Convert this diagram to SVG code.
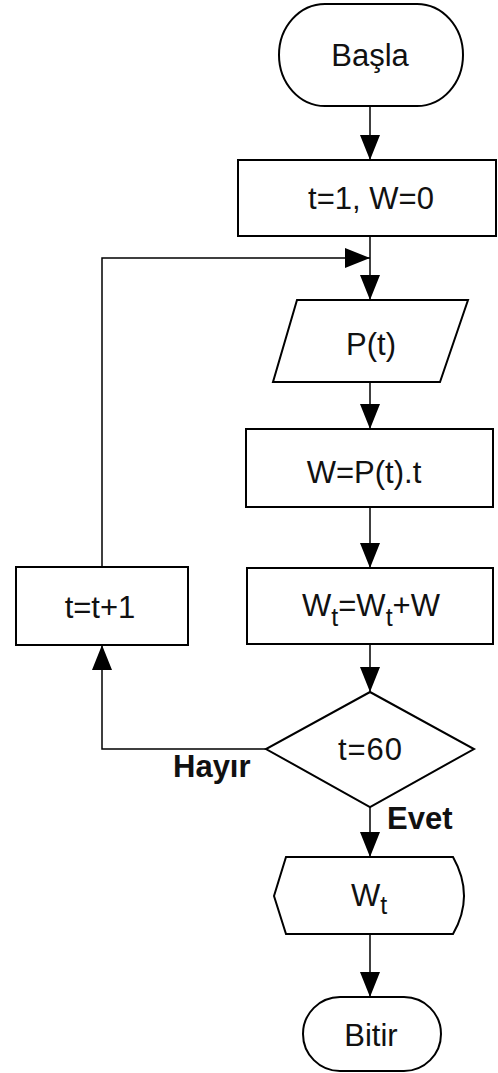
<svg xmlns="http://www.w3.org/2000/svg" width="498" height="1073" viewBox="0 0 498 1073">
<style>
.s{fill:#fff;stroke:#000;stroke-width:2}
.c{fill:none;stroke:#000;stroke-width:1.5}
.t{font-family:"Liberation Sans",Arial,sans-serif;font-size:31px;fill:#111;text-anchor:middle}
.b{font-family:"Liberation Sans",Arial,sans-serif;font-size:31px;font-weight:bold;fill:#111}
.sub{font-size:25px}
</style>
<defs>
<marker id="ah" markerWidth="25" markerHeight="20" refX="25" refY="10" orient="auto" markerUnits="userSpaceOnUse">
<path d="M0,0 L25,10 L0,20 Z" fill="#000"/>
</marker>
</defs>
<rect width="498" height="1073" fill="#fff"/>
<g id="connectors">
<line class="c" x1="370" y1="106" x2="370" y2="160" marker-end="url(#ah)"/>
<line class="c" x1="370" y1="236" x2="370" y2="300" marker-end="url(#ah)"/>
<polyline class="c" points="102,567 102,258 370,258" marker-end="url(#ah)"/>
<line class="c" x1="370" y1="382" x2="370" y2="429" marker-end="url(#ah)"/>
<line class="c" x1="370" y1="507" x2="370" y2="568" marker-end="url(#ah)"/>
<line class="c" x1="370" y1="644" x2="370" y2="692" marker-end="url(#ah)"/>
<polyline class="c" points="266,749 102,749 102,645" marker-end="url(#ah)"/>
<line class="c" x1="370" y1="807" x2="370" y2="857" marker-end="url(#ah)"/>
<line class="c" x1="370" y1="934" x2="370" y2="997" marker-end="url(#ah)"/>
</g>
<g id="basla">
<rect class="s" x="279" y="4" width="184" height="102" rx="46" ry="51"/>
<text class="t" x="370" y="66">Başla</text>
</g>
<g id="init">
<rect class="s" x="238" y="160" width="258" height="76"/>
<text class="t" x="371" y="209">t=1, W=0</text>
</g>
<g id="input">
<polygon class="s" points="297,300 468,300 440,382 273,382"/>
<text class="t" x="371" y="355">P(t)</text>
</g>
<g id="calcW">
<rect class="s" x="246" y="429" width="247" height="78"/>
<text class="t" x="364" y="483">W=P(t).t</text>
</g>
<g id="sumW">
<rect class="s" x="247" y="568" width="246" height="76"/>
<text class="t" x="371" y="616">W<tspan class="sub" dy="10">t</tspan><tspan dy="-10">=W</tspan><tspan class="sub" dy="10">t</tspan><tspan dy="-10">+W</tspan></text>
</g>
<g id="incr">
<rect class="s" x="16" y="567" width="172" height="78"/>
<text class="t" x="100" y="618">t=t+1</text>
</g>
<g id="decision">
<polygon class="s" points="370,692 474,749 370,807 266,749"/>
<text class="t" x="370" y="760" textLength="64">t=60</text>
</g>
<g id="labels">
<text class="b" x="173" y="777">Hayır</text>
<text class="b" x="387" y="829">Evet</text>
</g>
<g id="output">
<path class="s" d="M286,857 L453,857 Q475,896 453,934 L286,934 L274,896 Z"/>
<text class="t" x="369" y="906">W<tspan class="sub" dy="8">t</tspan></text>
</g>
<g id="bitir">
<rect class="s" x="303" y="997" width="138" height="74" rx="37" ry="37"/>
<text class="t" x="371" y="1046">Bitir</text>
</g>
</svg>
